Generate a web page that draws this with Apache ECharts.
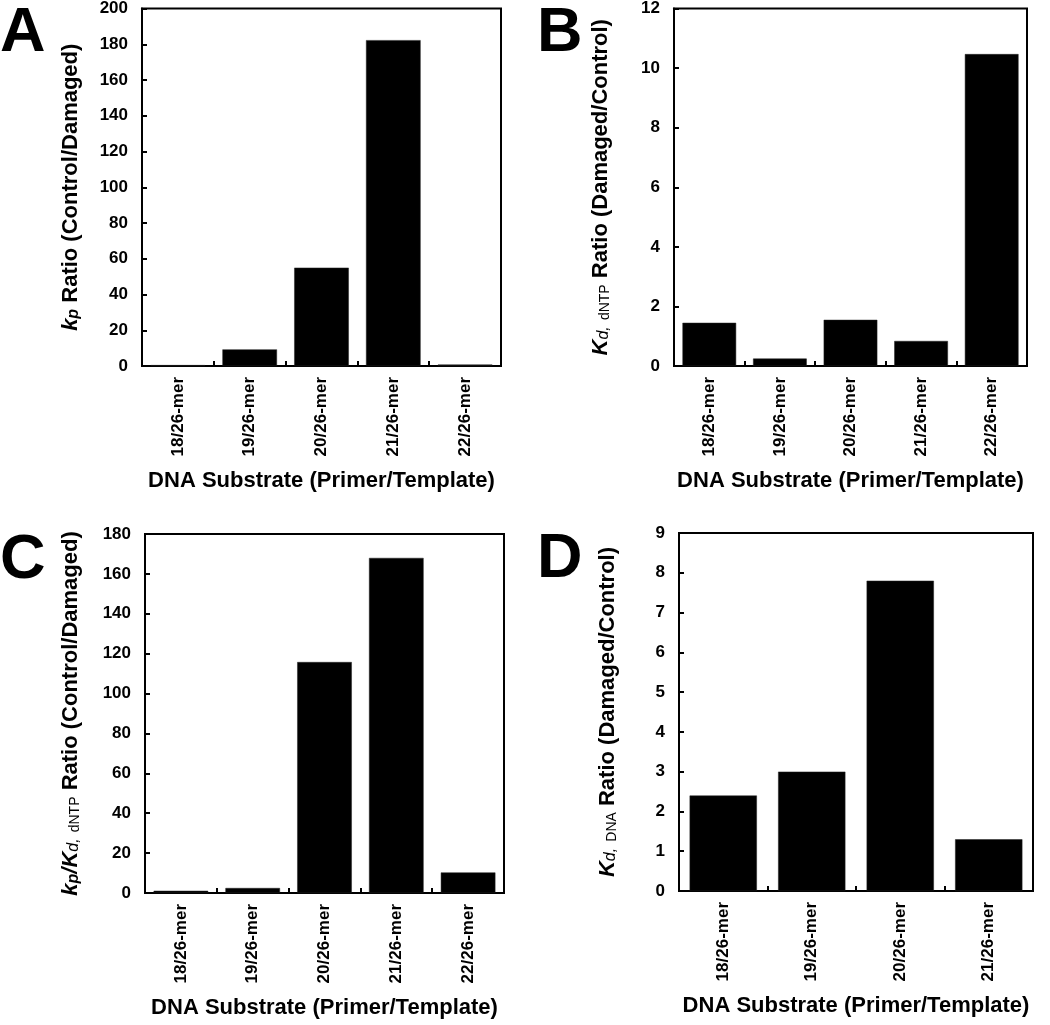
<!DOCTYPE html>
<html>
<head>
<meta charset="utf-8">
<script src="https://cdn.jsdelivr.net/npm/echarts@6/dist/echarts.min.js"></script>
<style>
html,body{margin:0;padding:0;background:#fff;}
#chart{width:1050px;height:1025px;}
</style>
</head>
<body>
<div id="chart"></div>
<script>
// ---- Data ----
const categoriesABC = ['18/26-mer', '19/26-mer', '20/26-mer', '21/26-mer', '22/26-mer'];
const categoriesD = ['18/26-mer', '19/26-mer', '20/26-mer', '21/26-mer'];
const kpRatio = [0.5, 9.3, 55, 182.3, 0.8];            // A: kp Ratio (Control/Damaged)
const kdDntpRatio = [1.45, 0.25, 1.55, 0.84, 10.47];   // B: Kd,dNTP Ratio (Damaged/Control)
const efficiencyRatio = [1.1, 2.5, 115.8, 168, 10.3];  // C: kp/Kd,dNTP Ratio (Control/Damaged)
const kdDnaRatio = [2.4, 3.0, 7.8, 1.3];               // D: Kd,DNA Ratio (Damaged/Control)
const xTitle = 'DNA Substrate (Primer/Template)';
const panelLetters = ['A', 'B', 'C', 'D'];

const FONT = '"Liberation Sans", Arial, sans-serif';

const richStyles = {
  it: { fontStyle: 'italic', fontWeight: 'bold', fontSize: 22, fontFamily: FONT, color: '#000' },
  subb: { fontStyle: 'italic', fontWeight: 'bold', fontSize: 16, fontFamily: FONT, color: '#000', verticalAlign: 'bottom', lineHeight: 8 },
  sub: { fontStyle: 'italic', fontWeight: 'normal', fontSize: 16, fontFamily: FONT, color: '#000', verticalAlign: 'bottom', lineHeight: 8 },
  sub2: { fontWeight: 'normal', fontSize: 14, fontFamily: FONT, color: '#000', verticalAlign: 'bottom', lineHeight: 8 }
};

const grids = [
  { left: 142, top: 7, width: 359, height: 359 },
  { left: 674, top: 7, width: 353, height: 359 },
  { left: 145, top: 534, width: 359, height: 359 },
  { left: 679, top: 533, width: 354, height: 358 }
];

const yNames = [
  '{it|k}{subb|p} Ratio (Control/Damaged)',
  '{it|K}{sub|d,} {sub2|dNTP} Ratio (Damaged/Control)',
  '{it|k}{subb|p}{it|/K}{sub|d,} {sub2|dNTP} Ratio (Control/Damaged)',
  '{it|K}{sub|d,} {sub2|DNA} Ratio (Damaged/Control)'
];
const yScales = [
  { max: 200, interval: 20 },
  { max: 12, interval: 2 },
  { max: 180, interval: 20 },
  { max: 9, interval: 1 }
];
const yGaps = [60, 62, 63, 60];
const cats = [categoriesABC, categoriesABC, categoriesABC, categoriesD];
const values = [kpRatio, kdDntpRatio, efficiencyRatio, kdDnaRatio];

const xAxes = cats.map((c, i) => ({
  type: 'category',
  gridIndex: i,
  data: c,
  name: xTitle,
  nameLocation: 'middle',
  nameGap: 104,
  nameTextStyle: { fontSize: 22, fontWeight: 'bold', fontFamily: FONT, color: '#000' },
  axisLine: { show: true, lineStyle: { color: '#000', width: 2 } },
  axisTick: { show: true, inside: true, length: 5, lineStyle: { color: '#000', width: 2 } },
  axisLabel: { rotate: 90, fontSize: 17, fontWeight: 'bold', fontFamily: FONT, color: '#000', margin: 11 },
  splitLine: { show: false }
}));

const yAxes = yScales.map((s, i) => ({
  type: 'value',
  gridIndex: i,
  min: 0,
  max: s.max,
  interval: s.interval,
  name: yNames[i],
  nameLocation: 'middle',
  nameRotate: 90,
  nameGap: yGaps[i],
  nameTextStyle: { fontSize: 22, fontWeight: 'bold', fontFamily: FONT, color: '#000', rich: richStyles },
  axisLine: { show: true, lineStyle: { color: '#000', width: 2 } },
  axisTick: { show: true, inside: true, length: 5, lineStyle: { color: '#000', width: 2 } },
  axisLabel: { fontSize: 17, fontWeight: 'bold', fontFamily: FONT, color: '#000', margin: 14 },
  splitLine: { show: false }
}));

const series = values.map((v, i) => ({
  type: 'bar',
  xAxisIndex: i,
  yAxisIndex: i,
  data: v,
  barCategoryGap: '24%',
  itemStyle: { color: '#000', borderColor: '#222', borderWidth: 0.5 },
  silent: true
}));

const letterPos = [[0, 2], [537, 2], [0, 529], [537, 528]];
const graphic = panelLetters.map((L, i) => ({
  type: 'text',
  left: letterPos[i][0],
  top: letterPos[i][1],
  style: { text: L, fontSize: 63, fontWeight: 'bold', fontFamily: FONT, fill: '#000' }
}));

const chart = echarts.init(document.getElementById('chart'), null, { renderer: 'canvas' });
chart.setOption({
  animation: false,
  backgroundColor: '#fff',
  grid: grids.map(g => Object.assign({ show: true, borderColor: '#000', borderWidth: 2, backgroundColor: 'transparent' }, g)),
  xAxis: xAxes,
  yAxis: yAxes,
  series: series,
  graphic: graphic
});
</script>
</body>
</html>
